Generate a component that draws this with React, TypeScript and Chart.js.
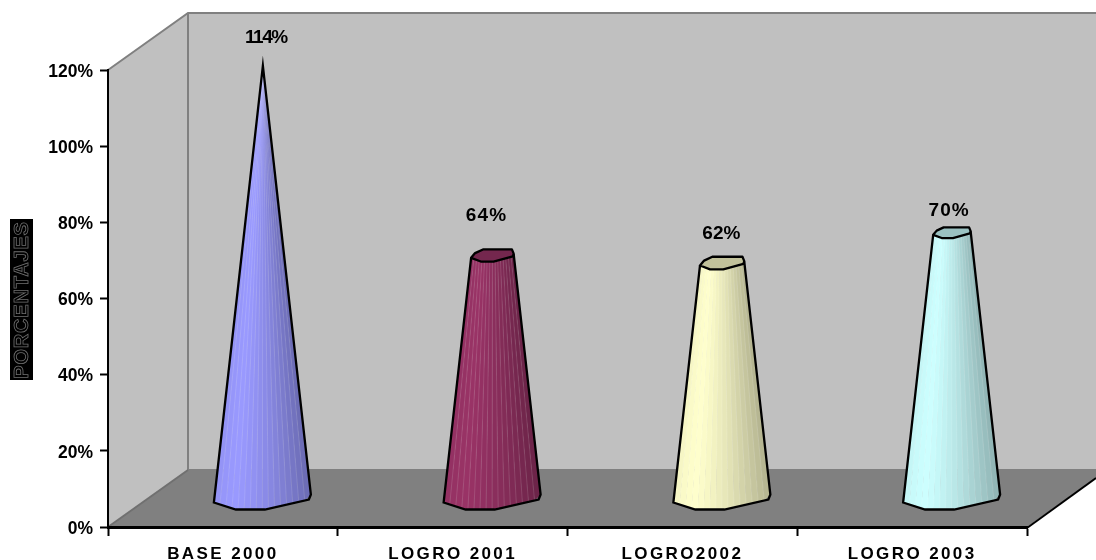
import React, { useEffect, useRef } from "react";
import { Chart, registerables } from "chart.js";

Chart.register(...registerables);

const categories = ["BASE 2000", "LOGRO 2001", "LOGRO2002", "LOGRO 2003"];
const values = [114, 64, 62, 70];
const colors = ["#9999FF", "#993366", "#FFFFCC", "#CCFFFF"];
const yTitle = "PORCENTAJES";

const FONT = '"Liberation Sans", Arial, sans-serif';
const DEPTH_X = 40;
const DEPTH_Y = 27;
const BACK_X = 80;
const BACK_Y = 57;
const labelLift = [28, 41, 30, 23];
const labelShift = [3, -6, -1, -3];
const labelTrack = [-1.4, 1.2, 0, 1];
// outline of a cone's base round its centre: front part, then back part
const baseFront = [[-49, 3], [-27, 10], [2, 10], [46, 0], [48, -5]];
const baseBack = [[44, -13], [-22, -13], [-40, -6]];
const STRIPS = 16;

function shade(hex: string, f: number) {
  const n = parseInt(hex.slice(1), 16);
  const c = [(n >> 16) & 255, (n >> 8) & 255, n & 255].map((v) => Math.round(v * f));
  return `rgb(${c[0]},${c[1]},${c[2]})`;
}

function alongFront(s: number) {
  const segs = baseFront.length - 1;
  const xMin = baseFront[0][0];
  const xMax = baseFront[segs][0];
  const x = xMin + (xMax - xMin) * s;
  for (let i = 0; i < segs; i++) {
    const a = baseFront[i];
    const b = baseFront[i + 1];
    if (x <= b[0] || i === segs - 1) {
      const t = (x - a[0]) / (b[0] - a[0]);
      return [x, a[1] + (b[1] - a[1]) * t];
    }
  }
  return baseFront[segs];
}

const wallsPlugin = {
  id: "walls",
  beforeDraw(chart: any) {
    const { ctx, chartArea: a, width } = chart;
    const yTop = a.top - BACK_Y;
    const xBack = a.left + BACK_X;
    const yFloor = a.bottom - BACK_Y;
    ctx.save();
    ctx.fillStyle = "#C0C0C0";
    ctx.beginPath();
    ctx.moveTo(a.left, a.top);
    ctx.lineTo(xBack, yTop);
    ctx.lineTo(width, yTop);
    ctx.lineTo(width, yFloor);
    ctx.lineTo(xBack, yFloor);
    ctx.lineTo(a.left, a.bottom);
    ctx.closePath();
    ctx.fill();
    ctx.fillStyle = "#808080";
    ctx.beginPath();
    ctx.moveTo(a.left, a.bottom);
    ctx.lineTo(xBack, yFloor);
    ctx.lineTo(width, yFloor);
    ctx.lineTo(width, a.bottom - 49);
    ctx.lineTo(a.right, a.bottom);
    ctx.closePath();
    ctx.fill();
    ctx.strokeStyle = "#808080";
    ctx.lineWidth = 2;
    ctx.beginPath();
    ctx.moveTo(a.left, a.top);
    ctx.lineTo(xBack, yTop);
    ctx.lineTo(width, yTop);
    ctx.moveTo(xBack, yTop);
    ctx.lineTo(xBack, yFloor);
    ctx.lineTo(width, yFloor);
    ctx.stroke();
    ctx.strokeStyle = "#707070";
    ctx.beginPath();
    ctx.moveTo(a.left, a.bottom);
    ctx.lineTo(xBack, yFloor);
    ctx.stroke();
    ctx.strokeStyle = "#000";
    ctx.lineWidth = 2;
    ctx.beginPath();
    ctx.moveTo(a.right, a.bottom + 1);
    ctx.lineTo(width, a.bottom - 49);
    ctx.stroke();

    // outlined axis title on its black box
    ctx.translate(22, 300);
    ctx.rotate(-Math.PI / 2);
    ctx.fillStyle = "#000";
    ctx.fillRect(-80, -12, 161, 23);
    ctx.font = `bold 20px ${FONT}`;
    (ctx as any).letterSpacing = "0.8px";
    ctx.textAlign = "center";
    ctx.textBaseline = "middle";
    ctx.strokeStyle = "#707070";
    ctx.lineWidth = 0.8;
    ctx.strokeText(yTitle, 0, 0);
    ctx.restore();
  },
};

const conePlugin = {
  id: "cones",
  afterLayout(chart: any) {
    const x = chart.scales.x;
    if (x.__spaced) return;
    const orig = x.drawLabels;
    x.drawLabels = function (area: any) {
      chart.ctx.save();
      chart.ctx.letterSpacing = "2.4px";
      orig.call(this, area);
      chart.ctx.restore();
    };
    x.__spaced = true;
  },
  beforeDatasetDraw(chart: any, args: any) {
    const { ctx } = chart;
    const meta = args.meta;
    const ds = chart.data.datasets[args.index];
    const apex = Math.max(...(ds.data as number[]));
    meta.data.forEach((el: any, i: number) => {
      const v = ds.data[i];
      const hex = ds.backgroundColor[i];
      const cx = el.x + DEPTH_X;
      const by = el.base - DEPTH_Y;
      const ty = el.y - DEPTH_Y;
      const k = 1 - v / apex;
      ctx.save();
      // side of the cone: strips from light to shaded
      for (let s = 0; s < STRIPS; s++) {
        const s0 = s / STRIPS;
        const s1 = (s + 1) / STRIPS;
        const p0 = alongFront(s0);
        const p1 = alongFront(s1);
        const m = (s0 + s1) / 2;
        const f = m < 0.2 ? 0.96 + 0.2 * m : 1 - 0.3 * Math.pow((m - 0.2) / 0.8, 1.3);
        ctx.fillStyle = shade(hex, f);
        ctx.beginPath();
        ctx.moveTo(cx + p0[0], by + p0[1]);
        ctx.lineTo(cx + p1[0] + 0.4, by + p1[1]);
        ctx.lineTo(cx + p1[0] * k + 0.4, ty + p1[1] * k);
        ctx.lineTo(cx + p0[0] * k, ty + p0[1] * k);
        ctx.closePath();
        ctx.fill();
      }
      for (let s = 1; s < STRIPS; s++) {
        const p = alongFront(s / STRIPS);
        ctx.strokeStyle = "rgba(255,255,255,0.13)";
        ctx.lineWidth = 1;
        ctx.beginPath();
        ctx.moveTo(cx + p[0], by + p[1]);
        ctx.lineTo(cx + p[0] * k, ty + p[1] * k);
        ctx.stroke();
      }
      ctx.strokeStyle = "#000";
      ctx.lineWidth = 2.3;
      ctx.lineJoin = "miter";
      ctx.miterLimit = 12;
      // silhouette
      const first = baseFront[0];
      const last = baseFront[baseFront.length - 1];
      ctx.beginPath();
      ctx.moveTo(cx + first[0] * k, ty + first[1] * k);
      baseFront.forEach((p) => ctx.lineTo(cx + p[0], by + p[1]));
      ctx.lineTo(cx + last[0] * k, ty + last[1] * k);
      if (k === 0) ctx.closePath();
      ctx.stroke();
      // top cap
      if (k > 0) {
        ctx.lineJoin = "round";
        ctx.fillStyle = shade(hex, 0.76);
        ctx.beginPath();
        [...baseFront, ...baseBack].forEach((p, j) => {
          const X = cx + p[0] * k;
          const Y = ty + p[1] * k * 1.2;
          if (j === 0) ctx.moveTo(X, Y);
          else ctx.lineTo(X, Y);
        });
        ctx.closePath();
        ctx.fill();
        ctx.stroke();
      }
      // value label
      ctx.fillStyle = "#000";
      ctx.font = `bold 19px ${FONT}`;
      ctx.letterSpacing = `${labelTrack[i]}px`;
      ctx.textAlign = "center";
      ctx.textBaseline = "middle";
      ctx.fillText(`${v}%`, cx + labelShift[i], ty - labelLift[i]);
      ctx.restore();
    });
    return false;
  },
};

export default function App() {
  const ref = useRef<HTMLCanvasElement>(null);
  useEffect(() => {
    document.body.style.margin = "0";
    const chart = new Chart(ref.current!, {
      type: "bar",
      data: {
        labels: categories,
        datasets: [{ data: values, backgroundColor: colors, borderWidth: 0 }],
      },
      plugins: [wallsPlugin, conePlugin],
      options: {
        animation: false,
        responsive: false,
        layout: { padding: { top: 70, right: 69, left: 0, bottom: 0 } },
        plugins: { legend: { display: false }, tooltip: { enabled: false }, title: { display: false } },
        scales: {
          x: {
            offset: true,
            afterFit(s: any) {
              s.height = 33;
            },
            border: { color: "#000", width: 3 },
            grid: { drawOnChartArea: false, offset: true, tickColor: "#000", tickLength: 9, tickWidth: 2 },
            ticks: {
              color: "#000",
              maxRotation: 0,
              padding: 8,
              font: { family: FONT, weight: "bold", size: 17 },
            },
          },
          y: {
            min: 0,
            max: 120,
            afterFit(s: any) {
              s.width = 108;
            },
            border: { color: "#000", width: 2 },
            grid: { drawOnChartArea: false, tickColor: "#000", tickLength: 8, tickWidth: 2 },
            ticks: {
              stepSize: 20,
              color: "#000",
              padding: 7,
              labelOffset: 2,
              font: { family: FONT, weight: "bold", size: 17.5 },
              callback: (v: any) => `${v}%`,
            },
          },
        },
      },
    } as any);
    return () => chart.destroy();
  }, []);
  return <canvas ref={ref} width={1096} height={560} style={{ display: "block" }} />;
}
